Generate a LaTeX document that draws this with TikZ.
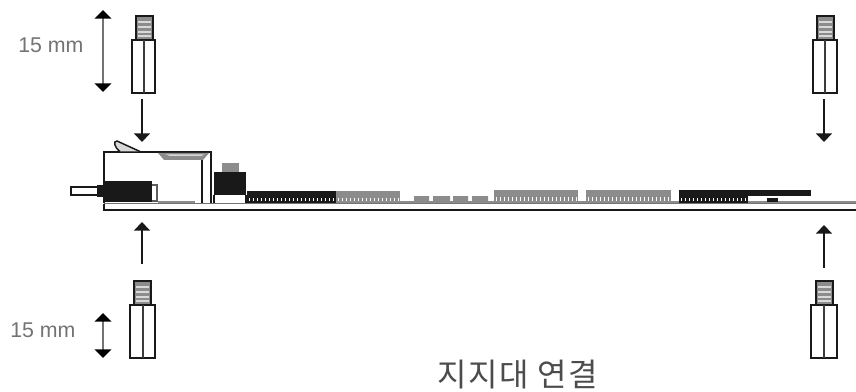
\documentclass[tikz,border=0pt]{standalone}
\usepackage{fontspec}
\setmainfont{Liberation Sans}
\newfontfamily\krfont[LetterSpace=5]{Noto Sans CJK KR}
\usetikzlibrary{arrows.meta}
\definecolor{inkgray}{gray}{0.45}
\definecolor{midgray}{gray}{0.55}
\definecolor{ink}{gray}{0.1}
\tikzset{
  px/.style={x=0.75pt,y=-0.75pt},
  outline/.style={draw=ink,line width=1.2pt,fill=white},
  blackarrow/.style={draw=ink,line width=1.1pt,-{Triangle[width=12pt,length=6.5pt]}},
  dimarrow/.style={draw=inkgray,line width=1.8pt,{Triangle[width=12.5pt,length=6.5pt,color=black]}-{Triangle[width=12.5pt,length=6.5pt,color=black]}},
  dimlabel/.style={text=inkgray,font=\fontsize{16pt}{18pt}\selectfont,inner sep=0pt},
  title/.style={text=black!70,font=\krfont\fontsize{24pt}{28pt}\selectfont,inner sep=0pt}
}
% thread left, thread right, body left, body right, top y
\newcommand{\standoff}[5]{%
  \fill[midgray] (#1,#5) rectangle (#2,#5+24);
  \foreach \k in {6,11,16,20} \draw[white!85!black,line width=1pt] (#1+2,#5+\k) -- (#2-2,#5+\k);
  \draw[ink,line width=1.2pt] (#1,#5+24) -- (#1,#5) -- (#2,#5) -- (#2,#5+24);
  \draw[outline] (#3,#5+24) rectangle (#4,#5+77);
  \draw[ink!85,line width=1.5pt] ({(#3+#4)/2},#5+24) -- ({(#3+#4)/2},#5+77);
}
% pin strip: x from, x to, top y, bottom y, fill colour
\newcommand{\pinstrip}[5]{%
  \fill[#5] (#1,#3) rectangle (#2,#4);
  \foreach \p in {#1,\numexpr#1+4\relax,...,#2} {\fill[white] (\p+1.5,#3+6.5) rectangle (\p+3,#4-2);}
}
\begin{document}
\begin{tikzpicture}[px]
\useasboundingbox (0,0) rectangle (856,392);
\fill[white] (0,0) rectangle (856,392);
% stand-offs
\standoff{136}{153}{132}{155}{16}
\standoff{817}{834}{813}{837}{16}
\standoff{134}{151}{130}{155}{281}
\standoff{816}{833}{811}{837}{281}
% board
\fill[midgray] (400,201) rectangle (856,204);
\draw[ink,line width=1.2pt] (104,203.5) -- (104,210) -- (856,210);
\draw[inkgray,line width=1.2pt] (104,203.5) -- (856,203.5);
% connector housing
\draw[outline,line width=1.4pt] (104,203) -- (104,152) -- (211,152) -- (211,203);
\draw[ink,line width=1.4pt] (202,159) -- (202,203);
\fill[midgray] (158,153) -- (209,153) -- (203,160) -- (164,160) -- cycle;
\fill[white!85!black] (166,154.5) -- (204,154.5) -- (201,156) -- (170,156) -- cycle;
\draw[ink,line width=1.1pt,fill=white!85!black] (140,151.5) -- (117,141) .. controls (113,141) and (114,147) .. (120,151.5);
\fill[midgray] (158,201) rectangle (195,203);
% jack
\draw[ink,line width=1.1pt,fill=white] (98,187) -- (71,187) -- (71,195) -- (98,195);
\fill[ink] (97,185) rectangle (106,197);
\fill[ink] (105,181) rectangle (152,201.5);
\draw[ink!70,line width=1pt] (152,185) -- (157,185) -- (157,201) -- (152,201);
% black component
\fill[midgray] (222,163) rectangle (239,172);
\fill[ink] (214,172) rectangle (246,195);
\draw[ink,line width=1pt] (214,195) -- (214,203) (246,195) -- (246,203);
% headers
\pinstrip{247}{336}{191}{203}{ink}
\pinstrip{336}{400}{191}{203}{midgray}
\fill[midgray] (414,196) rectangle (429,203) (433,196) rectangle (450,203) (453,196) rectangle (468,203) (472,196) rectangle (488,203);
\pinstrip{494}{578}{190}{203}{midgray}
\pinstrip{586}{671}{190}{203}{midgray}
\fill[ink] (679,190) rectangle (811,196);
\pinstrip{679}{748}{191}{203}{ink}
\fill[ink] (767,198) rectangle (778,202);
% arrows
\coordinate (tlA) at (142,99);  \coordinate (tlB) at (142,142);
\coordinate (trA) at (824,99);  \coordinate (trB) at (824,142);
\coordinate (blA) at (142,264); \coordinate (blB) at (142,222);
\coordinate (brA) at (824,268); \coordinate (brB) at (824,225);
\draw[blackarrow] (tlA) -- (tlB);
\draw[blackarrow] (trA) -- (trB);
\draw[blackarrow] (blA) -- (blB);
\draw[blackarrow] (brA) -- (brB);
\coordinate (dimtA) at (103,10);  \coordinate (dimtB) at (103,92);
\coordinate (dimbA) at (103,313); \coordinate (dimbB) at (103,358);
\draw[dimarrow] (dimtA) -- (dimtB);
\draw[dimarrow] (dimbA) -- (dimbB);
% labels
\node[dimlabel,anchor=west] (labeltop) at (18,45) {15 mm};
\node[dimlabel,anchor=west] (labelbot) at (10,330) {15 mm};
\node[title] (caption) at (518,375) {지지대 연결};
\end{tikzpicture}
\end{document}
